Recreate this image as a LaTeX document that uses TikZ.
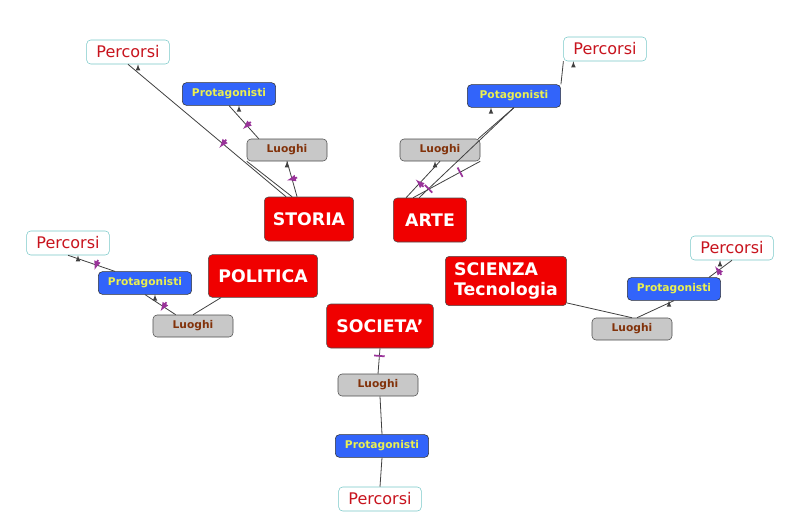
\documentclass[tikz,border=0pt]{standalone}
\usepackage{fontspec}
\setmainfont{DejaVu Sans}
\usetikzlibrary{decorations.markings}
\definecolor{boxred}{RGB}{240,0,0}
\definecolor{boxblue}{RGB}{50,100,250}
\definecolor{boxgrey}{RGB}{200,200,200}
\definecolor{txtbrown}{RGB}{130,50,10}
\definecolor{txtyellow}{RGB}{235,240,80}
\definecolor{pathred}{RGB}{200,20,30}
\definecolor{pathedge}{RGB}{120,200,200}
\tikzset{
  theme/.style={draw=black!70, fill=boxred, rounded corners=3pt, text=white,
    font=\bfseries\fontsize{13}{15}\selectfont, align=left, inner sep=2pt},
  place/.style={draw=black!70, fill=boxgrey, rounded corners=3pt, text=txtbrown,
    font=\bfseries\fontsize{8}{9}\selectfont, minimum width=60pt, minimum height=16.5pt},
  actor/.style={draw=black!80, fill=boxblue, rounded corners=3pt, text=txtyellow,
    font=\bfseries\fontsize{8}{9}\selectfont, minimum width=70pt, minimum height=17pt},
  route/.style={draw=pathedge, fill=white, rounded corners=3pt, text=pathred,
    font=\fontsize{12}{14}\selectfont, minimum width=62pt, minimum height=18pt},
  link/.style={draw=black!75, line width=0.6pt},
  arrow/.style={link, -latex},
  tick/.style={decoration={markings, mark=at position #1 with
    {\draw[violet!80, line width=1.3pt] (0,-4pt) -- (0,4pt);}}, postaction=decorate}
}
\begin{document}
\begin{tikzpicture}[x=0.75pt,y=-0.75pt]
  \useasboundingbox (0,0) rectangle (793,529);

  % themes
  \node[theme, minimum width=67pt, minimum height=33pt] (storia) at (309,219) {STORIA};
  \node[theme, minimum width=55pt, minimum height=33pt] (arte) at (430,220) {ARTE};
  \node[theme, minimum width=82pt, minimum height=32pt] (politica) at (263,276) {POLITICA};
  \node[theme, minimum width=91pt, minimum height=37pt] (scienza) at (506,281) {SCIENZA\\Tecnologia};
  \node[theme, minimum width=80pt, minimum height=33pt] (societa) at (380,326) {SOCIETA'};

  % storia
  \node[place] (stLuoghi) at (287,150) {Luoghi};
  \node[actor] (stProt) at (229,94) {Protagonisti};
  \node[route] (stPerc) at (128,52) {Percorsi};
  \draw[arrow, tick=0.5] (storia.north west) ++(33,0) coordinate (a) -- (stLuoghi.south) ++(0,0);
  \draw[link] (storia.north west) ++(28,0) -- (stLuoghi.south west) ++(22,0);
  \draw[arrow, tick=0.4] (stLuoghi.north west) ++(12,0) -- (stProt.south) ++(10,0);
  \draw[arrow, tick=0.4] (storia.north west) ++(22,0) -- (stPerc.south) ++(10,0);

  % arte
  \node[place] (arLuoghi) at (440,150) {Luoghi};
  \node[actor] (arProt) at (514,96) {Potagonisti};
  \node[route] (arPerc) at (605,49) {Percorsi};
  \draw[arrow, tick=0.4] (arte.north west) ++(13,0) -- (arLuoghi.south) ++(-5,0);
  \draw[link, tick=0.7] (arte.north west) ++(20,0) -- (arLuoghi.south east) ++(-8,0);
  \draw[link, tick=0.1] (arte.north west) ++(26,0) -- (arProt.south) ++(20,0);
  \draw[arrow] (arLuoghi.north east) ++(-2,0) -- (arProt.south) ++(-23,0);
  \draw[arrow] (arProt.north east) -- (arPerc.south west) ++(10,0);

  % politica
  \node[place] (poLuoghi) at (193,326) {Luoghi};
  \node[actor] (poProt) at (145,283) {Protagonisti};
  \node[route] (poPerc) at (68,243) {Percorsi};
  \draw[link] (politica.south west) ++(13,0) -- (poLuoghi.north) ++(2,0);
  \draw[arrow, tick=0.4] (poLuoghi.north west) ++(23,0) -- (poProt.south) ++(10,0);
  \draw[arrow, tick=0.4] (poProt.north west) ++(17,0) -- (poPerc.south) ++(10,0);

  % scienza
  \node[place] (scLuoghi) at (632,329) {Luoghi};
  \node[actor] (scProt) at (674,289) {Protagonisti};
  \node[route] (scPerc) at (732,248) {Percorsi};
  \draw[link] (scienza.south east) ++(0,-3) -- (scLuoghi.north) ++(-5,0);
  \draw[arrow] (scLuoghi.north) ++(5,0) -- (scProt.south) ++(-5,0);
  \draw[arrow, tick=0.4] (scProt.north east) ++(-12,0) -- (scPerc.south) ++(-12,0);

  % societa
  \node[place] (soLuoghi) at (378,385) {Luoghi};
  \node[actor] (soProt) at (382,446) {Protagonisti};
  \node[route] (soPerc) at (380,499) {Percorsi};
  \draw[link, tick=0.3] (societa.south) -- (soLuoghi.north);
  \draw[link] (soLuoghi.south) ++(2,0) -- (soProt.north);
  \draw[link] (soProt.south) -- (soPerc.north);
\end{tikzpicture}
\end{document}
